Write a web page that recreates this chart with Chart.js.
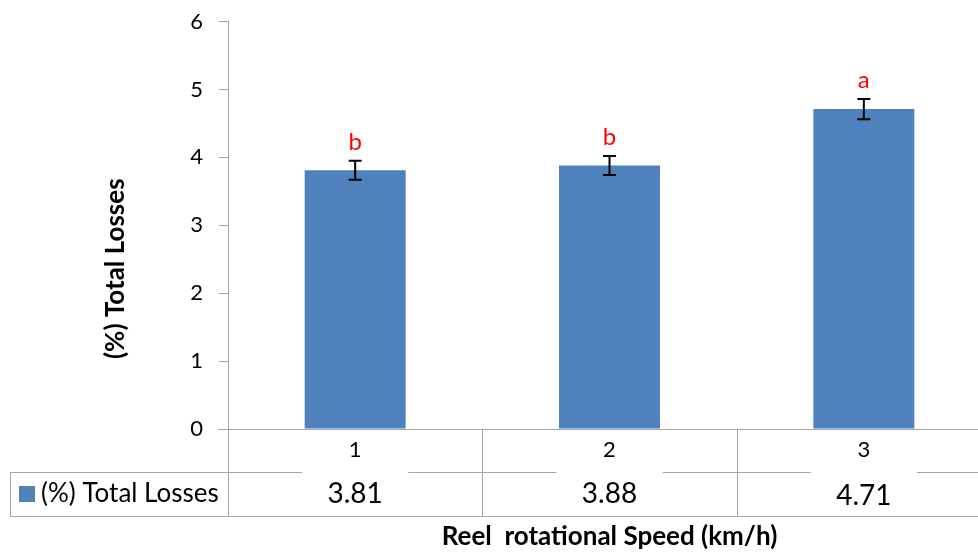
<!DOCTYPE html>
<html>
<head>
<meta charset="utf-8">
<script src="https://cdn.jsdelivr.net/npm/chart.js@4.4.0/dist/chart.umd.min.js"></script>
<style>
html, body { margin: 0; padding: 0; background: #fff; overflow: hidden; }
#wrap { width: 978px; height: 552px; overflow: hidden; }
</style>
</head>
<body>
<div id="wrap"><canvas id="chart" width="1000" height="552"></canvas></div>
<script>
// data
const categories = ['1', '2', '3'];
const seriesName = '(%) Total Losses';
const totalLosses = [3.81, 3.88, 4.71];
const errors = [0.14, 0.14, 0.15];
const letters = ['b', 'b', 'a'];
const valueLabels = ['3.81', '3.88', '4.71'];
const yTitle = '(%) Total Losses';
const xTitle = 'Reel  rotational Speed (km/h)';

const FONT = 'Lato, "Open Sans", sans-serif';
const LINE = '#a6a6a6';
const BAR = '#4f81bd';

const errorBars = {
    id: 'errorBars',
    afterDatasetsDraw(chart) {
        const ctx = chart.ctx;
        const y = chart.scales.y;
        const meta = chart.getDatasetMeta(0);
        ctx.save();
        meta.data.forEach((bar, i) => {
            const v = totalLosses[i];
            const top = y.getPixelForValue(v + errors[i]);
            const bot = y.getPixelForValue(v - errors[i]);
            ctx.strokeStyle = '#000';
            ctx.lineWidth = 2;
            ctx.beginPath();
            ctx.moveTo(bar.x, top); ctx.lineTo(bar.x, bot);
            ctx.moveTo(bar.x - 6.5, top); ctx.lineTo(bar.x + 6.5, top);
            ctx.moveTo(bar.x - 6.5, bot); ctx.lineTo(bar.x + 6.5, bot);
            ctx.stroke();
            ctx.fillStyle = '#ff0000';
            ctx.font = '24px ' + FONT;
            ctx.textAlign = 'center';
            ctx.textBaseline = 'alphabetic';
            ctx.fillText(letters[i], bar.x, top - 11);
        });
        ctx.restore();
    }
};

const dataTable = {
    id: 'dataTable',
    afterDraw(chart) {
        const ctx = chart.ctx;
        const area = chart.chartArea;
        const x = chart.scales.x;
        const half = (x.getPixelForValue(1) - x.getPixelForValue(0)) / 2;
        const y0 = area.bottom;
        const rowSep = y0 + 43;
        const tableBottom = y0 + 87;
        const boxLeft = 10;
        const right = chart.width;

        ctx.save();
        ctx.strokeStyle = LINE;
        ctx.lineWidth = 1;
        ctx.beginPath();
        // category axis line
        ctx.moveTo(area.left - 10, y0 + 0.5); ctx.lineTo(right, y0 + 0.5);
        // cell borders
        for (let i = 0; i <= categories.length; i++) {
            const bx = Math.round(x.getPixelForValue(0) - half + i * 2 * half) + 0.5;
            ctx.moveTo(bx, y0); ctx.lineTo(bx, tableBottom);
        }
        ctx.moveTo(boxLeft + 0.5, rowSep); ctx.lineTo(boxLeft + 0.5, tableBottom);
        // row separator, broken above each value
        let start = boxLeft;
        categories.forEach((c, i) => {
            const cx = x.getPixelForValue(i);
            ctx.moveTo(start, rowSep + 0.5); ctx.lineTo(cx - 53, rowSep + 0.5);
            start = cx + 53;
        });
        ctx.moveTo(start, rowSep + 0.5); ctx.lineTo(right, rowSep + 0.5);
        ctx.moveTo(boxLeft, tableBottom + 0.5); ctx.lineTo(right, tableBottom + 0.5);
        ctx.stroke();

        ctx.fillStyle = '#000';
        ctx.textAlign = 'center';
        ctx.textBaseline = 'middle';
        categories.forEach((c, i) => {
            const cx = x.getPixelForValue(i);
            ctx.font = '22px ' + FONT;
            ctx.fillText(c, cx, y0 + 21);
            ctx.font = '28px ' + FONT;
            ctx.fillText(valueLabels[i], cx, y0 + 65 + (i === 2 ? 2 : 0));
        });

        // legend key
        ctx.fillStyle = BAR;
        ctx.fillRect(19, y0 + 57, 16, 16);
        ctx.fillStyle = '#000';
        ctx.textAlign = 'left';
        ctx.font = '26px ' + FONT;
        ctx.fillText(seriesName, 41, y0 + 65);

        // axis titles
        ctx.font = 'bold 26px ' + FONT;
        ctx.textAlign = 'center';
        ctx.fillText(xTitle, (area.left + area.right) / 2, tableBottom + 21);
        ctx.translate(116, (area.top + tableBottom) / 2);
        ctx.rotate(-Math.PI / 2);
        ctx.fillText(yTitle, 0, 0);
        ctx.restore();
    }
};

new Chart(document.getElementById('chart').getContext('2d'), {
    type: 'bar',
    data: {
        labels: categories,
        datasets: [{
            label: seriesName,
            data: totalLosses,
            backgroundColor: BAR,
            borderWidth: 0,
            categoryPercentage: 1,
            barPercentage: 0.397
        }]
    },
    options: {
        responsive: false,
        animation: false,
        devicePixelRatio: 1,
        layout: { padding: { top: 21, right: 9, bottom: 123, left: 0 } },
        plugins: {
            legend: { display: false },
            tooltip: { enabled: false }
        },
        scales: {
            x: { display: false },
            y: {
                min: 0,
                max: 6,
                ticks: { stepSize: 1, color: '#000', padding: 16, font: { family: FONT, size: 22, lineHeight: 0.5 } },
                grid: { drawOnChartArea: false, drawTicks: true, tickLength: 9, color: LINE },
                border: { color: LINE, width: 1 },
                afterFit: s => { s.width = 228; }
            }
        }
    },
    plugins: [errorBars, dataTable]
});
</script>
</body>
</html>
